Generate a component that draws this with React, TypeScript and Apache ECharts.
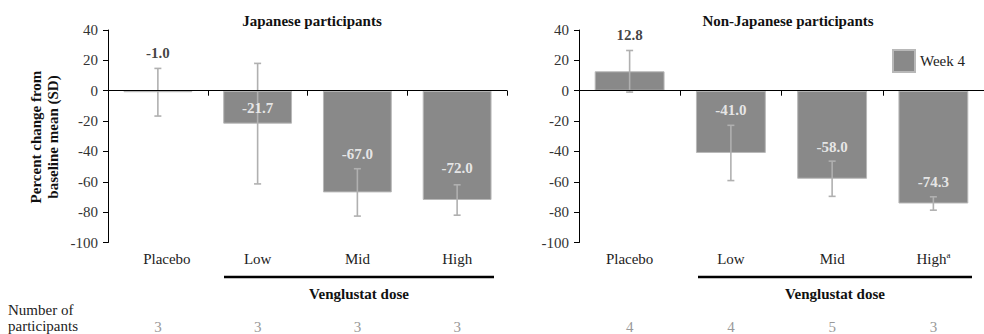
import React, { useEffect, useRef } from "react";
import * as echarts from "echarts";

const categories = ["Placebo", "Low", "Mid", "High"];
const jpMeans = [-1.0, -21.7, -67.0, -72.0];
const jpSD = [15.7, 39.7, 15.6, 10.0];
const njMeans = [12.8, -41.0, -58.0, -74.3];
const njSD = [13.7, 18.2, 11.6, 4.4];
const jpCounts = [3, 3, 3, 3];
const njCounts = [4, 4, 5, 3];
const jpLabelY = [25, -11.2, -42, -51];
const njLabelY = [36.8, -12.5, -36.8, -60];
const yTicks = { min: -100, max: 40, interval: 20 };

const FONT = "Liberation Serif";
const BAR = "#898989";
const ERR = "#b0b0b0";

function errorData(means: number[], sds: number[]) {
  return means.map((m, i) => [i, m - sds[i], m + sds[i]]);
}

function labelData(means: number[], ys: number[]) {
  return means.map((m, i) => ({
    value: [i, ys[i]],
    label: {
      color: m > 0 || i === 0 ? "#111" : "#fff",
    },
  }));
}

const renderErr = (params: any, api: any) => {
  const x = api.value(0);
  const lo = api.coord([x, api.value(1)]);
  const hi = api.coord([x, api.value(2)]);
  const cap = 3.5;
  const style = { stroke: ERR, lineWidth: 1.6 };
  return {
    type: "group",
    children: [
      { type: "line", shape: { x1: lo[0], y1: lo[1], x2: hi[0], y2: hi[1] }, style },
      { type: "line", shape: { x1: lo[0] - cap, y1: lo[1], x2: lo[0] + cap, y2: lo[1] }, style },
      { type: "line", shape: { x1: hi[0] - cap, y1: hi[1], x2: hi[0] + cap, y2: hi[1] }, style },
    ],
  };
};

function makeXAxes(gridIndex: number, counts: number[], shiftPlacebo: boolean, superHigh: boolean) {
  return [
    {
      type: "category",
      gridIndex,
      data: categories,
      position: "top",
      z: 5,
      axisLine: { onZero: true, lineStyle: { color: "#000", width: 1 } },
      axisTick: { show: true, inside: true, length: 5, lineStyle: { color: "#000" } },
      axisLabel: { show: false },
    },
    {
      type: "category",
      gridIndex,
      data: categories,
      position: "bottom",
      axisLine: { show: false, onZero: false },
      axisTick: { show: false },
      axisLabel: {
        margin: 7,
        interval: 0,
        formatter: (v: string, i: number) => {
          let first = `{c|${v}}`;
          if (i === 0 && shiftPlacebo) first = `{p|${v}}`;
          if (superHigh && v === "High") first = `{c|${v}}{s|a}`;
          return `${first}\n{g| }\n{n|${counts[i]}}`;
        },
        rich: {
          c: { fontFamily: FONT, fontSize: 15, lineHeight: 18, color: "#222" },
          p: { fontFamily: FONT, fontSize: 15, lineHeight: 18, color: "#222", padding: [0, 0, 0, 18] },
          s: { fontFamily: FONT, fontSize: 9, lineHeight: 18, color: "#222", padding: [0, 0, 7, 0] },
          g: { fontSize: 10, lineHeight: 50 },
          n: { fontFamily: FONT, fontSize: 15, lineHeight: 18, color: "#999" },
        },
      },
    },
  ];
}

function makeYAxis(gridIndex: number) {
  return {
    type: "value",
    gridIndex,
    min: yTicks.min,
    max: yTicks.max,
    interval: yTicks.interval,
    splitLine: { show: false },
    axisLine: { show: true, lineStyle: { color: "#000" } },
    axisTick: { show: true, length: 5, lineStyle: { color: "#000" } },
    axisLabel: { fontFamily: FONT, fontSize: 15, color: "#333", margin: 10 },
  };
}

function panelSeries(
  gridIdx: number,
  means: number[],
  sds: number[],
  labelYs: number[],
  name: string
) {
  const xIdx = gridIdx * 2;
  return [
    {
      type: "bar",
      name,
      xAxisIndex: xIdx,
      yAxisIndex: gridIdx,
      data: means,
      barWidth: "69%",
      itemStyle: { color: BAR, borderColor: "#b8b8b8", borderWidth: 1 },
      z: 2,
    },
    {
      type: "custom",
      name: "err" + gridIdx,
      xAxisIndex: xIdx,
      yAxisIndex: gridIdx,
      data: errorData(means, sds),
      encode: { x: 0, y: [1, 2] },
      renderItem: renderErr,
      z: 3,
    },
    {
      type: "scatter",
      name: "lab" + gridIdx,
      xAxisIndex: xIdx,
      yAxisIndex: gridIdx,
      symbolSize: 0,
      data: labelData(means, labelYs),
      z: 4,
      label: {
        show: true,
        position: "inside",
        fontFamily: FONT,
        fontSize: 15,
        fontWeight: "bold",
        formatter: (p: any) => means[p.dataIndex].toFixed(1),
      },
    },
  ];
}

export default function App() {
  const ref = useRef<HTMLDivElement>(null);
  useEffect(() => {
    if (!ref.current) return;
    const chart = echarts.init(ref.current, undefined, { renderer: "svg" });
    const titleStyle = { fontFamily: FONT, fontSize: 15, fontWeight: "bold", color: "#111" };
    chart.setOption({
      animation: false,
      title: [
        { text: "Japanese participants", left: 307, top: 8, textAlign: "center", textStyle: titleStyle },
        { text: "Non-Japanese participants", left: 783, top: 8, textAlign: "center", textStyle: titleStyle },
      ],
      legend: {
        data: ["Week 4"],
        left: 887,
        top: 44,
        icon: "rect",
        itemWidth: 22,
        itemHeight: 22,
        textStyle: { fontFamily: FONT, fontSize: 15, color: "#222", padding: [0, 0, 0, 0] },
      },
      grid: [
        { left: 108, top: 30, width: 399, height: 213 },
        { left: 579, top: 30, width: 410, height: 213 },
      ],
      xAxis: [...makeXAxes(0, jpCounts, true, false), ...makeXAxes(1, njCounts, false, true)],
      yAxis: [makeYAxis(0), makeYAxis(1)],
      series: [
        ...panelSeries(0, jpMeans, jpSD, jpLabelY, "Week 4 JP"),
        ...panelSeries(1, njMeans, njSD, njLabelY, "Week 4"),
      ],
      graphic: [
        {
          type: "text",
          x: 44,
          y: 137,
          rotation: Math.PI / 2,
          style: {
            text: "Percent change from\nbaseline mean (SD)",
            fontFamily: FONT,
            fontSize: 15,
            fontWeight: "bold",
            lineHeight: 17,
            align: "center",
            verticalAlign: "middle",
            fill: "#111",
          },
        },
        { type: "line", shape: { x1: 224, y1: 277, x2: 494, y2: 277 }, style: { stroke: "#000", lineWidth: 2.5 } },
        { type: "line", shape: { x1: 698, y1: 277, x2: 972, y2: 277 }, style: { stroke: "#000", lineWidth: 2.5 } },
        {
          type: "text",
          x: 359,
          y: 294,
          style: { text: "Venglustat dose", fontFamily: FONT, fontSize: 15, fontWeight: "bold", fill: "#111", align: "center", verticalAlign: "middle" },
        },
        {
          type: "text",
          x: 835,
          y: 294,
          style: { text: "Venglustat dose", fontFamily: FONT, fontSize: 15, fontWeight: "bold", fill: "#111", align: "center", verticalAlign: "middle" },
        },
        {
          type: "text",
          x: 8,
          y: 310,
          style: { text: "Number of", fontFamily: FONT, fontSize: 15, fill: "#222", align: "left", verticalAlign: "middle" },
        },
        {
          type: "text",
          x: 8,
          y: 326,
          style: { text: "participants", fontFamily: FONT, fontSize: 15, fill: "#222", align: "left", verticalAlign: "middle" },
        },
      ],
    });
    return () => chart.dispose();
  }, []);
  return (
    <div
      ref={ref}
      style={{ position: "absolute", left: 0, top: 0, width: 984, height: 334 }}
    />
  );
}
